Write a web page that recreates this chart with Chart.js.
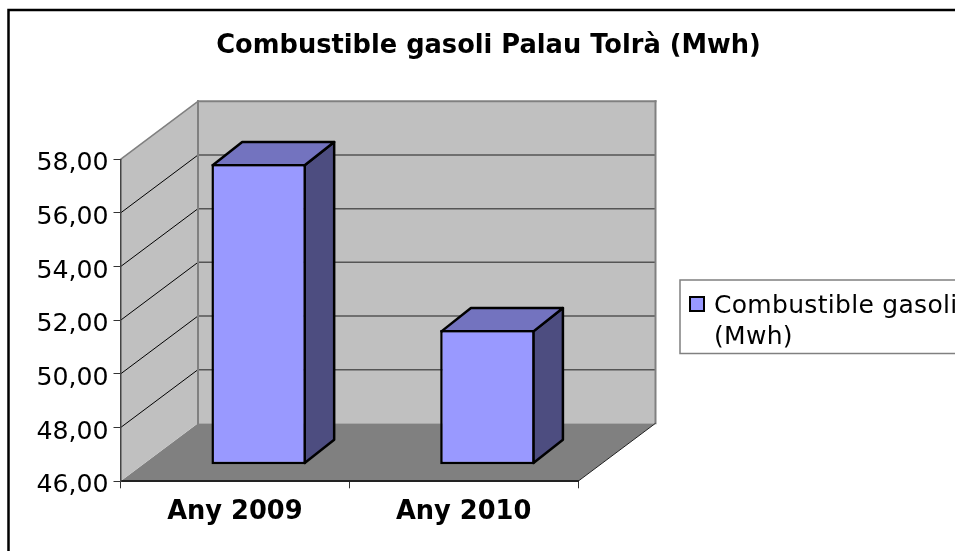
<!DOCTYPE html>
<html>
<head>
<meta charset="utf-8">
<script src="https://cdn.jsdelivr.net/npm/chart.js@4"></script>
<style>
  html, body { margin: 0; padding: 0; background: #fff; overflow: hidden; }
  canvas { display: block; }
</style>
</head>
<body>
<canvas id="chart" width="955" height="551"></canvas>
<script>
const chartTitle = 'Combustible gasoli Palau Tolrà (Mwh)';
const categories = ['Any 2009', 'Any 2010'];
const gasoliValues = [57.21, 51.02];
const legendLines = ['Combustible gasoli', '(Mwh)'];
const yMin = 46;
const yMax = 58;
const yStep = 2;
const fontName = '"DejaVu Sans"';

// 3D look: how far the walls and the bars go back
const wallDepth = { x: 77.5, y: 58 };
const barShift = { x: 23.8, y: 16.5 };
const barDepth = { x: 29.5, y: 23.3 };
const barLine = 2.5;

function poly(ctx, pts, fill, stroke, lineWidth) {
	ctx.beginPath();
	pts.forEach((p, i) => (i ? ctx.lineTo(p[0], p[1]) : ctx.moveTo(p[0], p[1])));
	ctx.closePath();
	if (fill) {
		ctx.fillStyle = fill;
		ctx.fill();
	}
	if (stroke) {
		ctx.strokeStyle = stroke;
		ctx.lineWidth = lineWidth;
		ctx.lineJoin = 'round';
		ctx.stroke();
	}
}

function line(ctx, x1, y1, x2, y2, color, lineWidth) {
	ctx.beginPath();
	ctx.moveTo(x1, y1);
	ctx.lineTo(x2, y2);
	ctx.strokeStyle = color;
	ctx.lineWidth = lineWidth;
	ctx.stroke();
}

const walls3d = {
	id: 'walls3d',
	beforeDraw(chart) {
		const { ctx, chartArea: a, scales } = chart;
		const dx = wallDepth.x, dy = wallDepth.y;
		ctx.save();

		// outer frame, runs off the picture on the right and bottom
		ctx.strokeStyle = '#000';
		ctx.lineWidth = 2.5;
		ctx.strokeRect(8.5, 10, 1000, 600);

		// floor, side wall, back wall
		poly(ctx, [[a.left, a.bottom], [a.left + dx, a.bottom - dy], [a.right + dx, a.bottom - dy], [a.right, a.bottom]], '#808080');
		poly(ctx, [[a.left, a.top], [a.left + dx, a.top - dy], [a.left + dx, a.bottom - dy], [a.left, a.bottom]], '#c0c0c0');
		poly(ctx, [[a.left + dx, a.top - dy], [a.right + dx, a.top - dy], [a.right + dx, a.bottom - dy], [a.left + dx, a.bottom - dy]], '#c0c0c0');

		// grid lines go across the back wall and down the side wall
		scales.y.ticks.forEach((t, i) => {
			const y = scales.y.getPixelForTick(i);
			if (y <= a.top + 1 || y >= a.bottom - 1) return;
			line(ctx, a.left + dx, y - dy, a.right + dx, y - dy, '#555', 1.5);
			line(ctx, a.left, y, a.left + dx, y - dy, '#000', 1);
		});

		// wall edges
		ctx.lineCap = 'square';
		line(ctx, a.left, a.top, a.left + dx, a.top - dy, '#808080', 1.5);
		line(ctx, a.left + dx, a.top - dy, a.right + dx, a.top - dy, '#808080', 2);
		line(ctx, a.right + dx, a.top - dy, a.right + dx, a.bottom - dy, '#808080', 2);
		line(ctx, a.left + dx, a.top - dy, a.left + dx, a.bottom - dy, '#808080', 2);
		ctx.lineCap = 'butt';
		line(ctx, a.right, a.bottom, a.right + dx, a.bottom - dy, '#222', 1);
		ctx.restore();
	},
	beforeDatasetDraw(chart, args) {
		const { ctx } = chart;
		ctx.save();
		// side and top faces sit behind the front face that the library draws
		const inset = barLine / 2;
		args.meta.data.forEach((bar) => {
			const p = bar.getProps(['x', 'y', 'base', 'width'], true);
			const l = p.x - p.width / 2 + barShift.x + inset;
			const r = p.x + p.width / 2 + barShift.x - inset;
			const t = p.y - barShift.y + inset;
			const b = p.base - barShift.y - inset;
			const dx = barDepth.x, dy = barDepth.y;
			poly(ctx, [[r, t], [r + dx, t - dy], [r + dx, b - dy], [r, b]], '#4d4d80', '#000', barLine);
			poly(ctx, [[l, t], [l + dx, t - dy], [r + dx, t - dy], [r, t]], '#7373bf', '#000', barLine);
		});
		ctx.restore();
		ctx.save();
		ctx.translate(barShift.x, -barShift.y);
	},
	afterDatasetDraw(chart) {
		chart.ctx.restore();
	},
};

// legend box on the right, it is cut off by the edge of the picture
const legendBox = {
	id: 'legendBox',
	beforeInit(chart) {
		Chart.layouts.addBox(chart, {
			position: 'right',
			options: {},
			weight: 0,
			isHorizontal() { return false; },
			update(w, h) {
				this.width = 377;
				this.height = h;
			},
			draw() {
				const { ctx } = chart;
				ctx.save();
				ctx.strokeStyle = '#808080';
				ctx.lineWidth = 1.5;
				ctx.strokeRect(680, 280, 320, 73.5);
				ctx.fillStyle = '#9999ff';
				ctx.fillRect(690, 297, 14, 14);
				ctx.strokeStyle = '#000';
				ctx.lineWidth = 2;
				ctx.strokeRect(690, 297, 14, 14);
				ctx.fillStyle = '#000';
				ctx.font = '25px ' + fontName;
				ctx.letterSpacing = '0.3px';
				ctx.textBaseline = 'alphabetic';
				legendLines.forEach((s, i) => ctx.fillText(s, 714, 313 + i * 31));
				ctx.restore();
			},
		});
	},
};

new Chart(document.getElementById('chart'), {
	type: 'bar',
	data: {
		labels: categories,
		datasets: [
			{
				label: legendLines.join(' '),
				data: gasoliValues,
				base: yMin,
				backgroundColor: '#9999ff',
				borderColor: '#000',
				borderWidth: barLine,
				borderSkipped: false,
				categoryPercentage: 1,
				barPercentage: 0.413,
				clip: false,
			},
		],
	},
	options: {
		responsive: false,
		animation: false,
		layout: { padding: { left: 22 } },
		plugins: {
			legend: { display: false },
			tooltip: { enabled: false },
			title: {
				display: true,
				text: chartTitle,
				color: '#000',
				font: { family: fontName, size: 25.7, weight: 'bold', lineHeight: 1.2 },
				padding: { top: 30.5, bottom: 98 },
			},
		},
		scales: {
			x: {
				grid: { drawOnChartArea: false, color: '#333', tickLength: 7, offset: true },
				border: { color: '#222', width: 2 },
				ticks: {
					color: '#000',
					padding: 9,
					maxRotation: 0,
					font: { family: fontName, size: 25.7, weight: 'bold' },
				},
				afterFit(scale) { scale.height = 69.7; },
			},
			y: {
				min: yMin,
				max: yMax,
				grid: { drawOnChartArea: false, color: '#333', tickLength: 7 },
				border: { color: '#444', width: 1.5 },
				ticks: {
					stepSize: yStep,
					color: '#000',
					padding: 5,
					labelOffset: 4.5,
					font: { family: fontName, size: 25.2 },
					callback: (v) => v.toFixed(2).replace('.', ','),
				},
				afterFit(scale) { scale.width = 98.5; },
			},
		},
	},
	plugins: [walls3d, legendBox],
});
</script>
</body>
</html>
